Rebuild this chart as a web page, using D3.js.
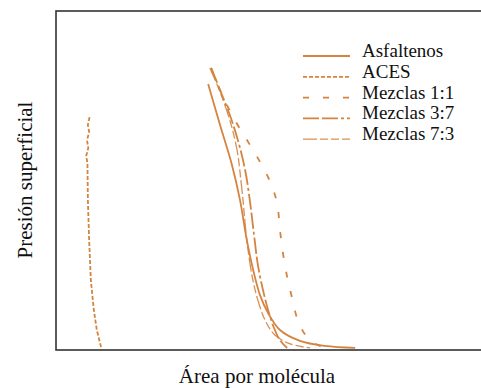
<!DOCTYPE html>
<html>
<head>
<meta charset="utf-8">
<script src="https://cdn.jsdelivr.net/npm/d3@7"></script>
<style>
  body { margin: 0; background: #fff; }
  text { font-family: "Liberation Serif", "DejaVu Serif", serif; fill: #111; }
</style>
</head>
<body>
<div id="main_graphs"></div>
<script>
// isotherm data (area per molecule vs surface pressure, arbitrary units)
var seriesNames = ["Asfaltenos", "ACES", "Mezclas 1:1", "Mezclas 3:7", "Mezclas 7:3"]

var asfaltenosX = [35.8, 38.6, 41.4, 43.3, 44.9, 46.4, 48.0, 49.9, 52.7, 57.4, 63.3, 70.4]
var asfaltenosY = [78.5, 66.4, 54.6, 44.2, 32.4, 23.6, 16.2, 10.9, 5.9, 2.7, 1.2, 0.6]

var acesX = [7.9, 7.5, 7.8, 7.3, 7.6, 7.1, 7.4, 7.5, 7.8, 8.2, 8.9, 9.6, 10.6]
var acesY = [68.7, 66.4, 64.3, 61.9, 59.6, 57.2, 55.2, 44.2, 32.4, 20.6, 11.8, 5.9, 0.9]

var mez11X = [36.5, 39.1, 42.1, 45.2, 48.0, 50.4, 52.0, 52.7, 53.4, 54.4, 55.5, 56.9, 59.1, 62.1, 64.5]
var mez11Y = [83.2, 75.2, 67.8, 61.4, 55.5, 49.6, 43.4, 35.4, 28.6, 21.5, 15.6, 8.8, 3.8, 1.2, 0.6]

var mez37X = [36.5, 38.6, 40.9, 42.8, 44.5, 45.6, 46.6, 47.5, 48.7, 49.9, 51.3, 52.7, 54.4]
var mez37Y = [83.2, 76.7, 69.3, 61.9, 53.1, 44.2, 33.9, 25.1, 17.7, 11.8, 6.5, 2.9, 0.6]

var mez73X = [36.2, 38.6, 40.9, 42.6, 43.5, 44.0, 44.9, 46.1, 47.5, 49.2, 51.5, 55.1, 59.8]
var mez73Y = [83.2, 76.1, 67.8, 59.0, 50.1, 44.2, 32.4, 22.1, 14.7, 8.8, 4.4, 1.8, 0.6]

var width = 481
var height = 388
var margin = {top: 11, right: 0, bottom: 38, left: 56}
var orange = "#d4843f"

var svg = d3.select("#main_graphs")
  .append("svg")
  .attr("width", width)
  .attr("height", height)

var x = d3.scaleLinear()
  .domain([0, 100])
  .range([margin.left, width - margin.right])

var y = d3.scaleLinear()
  .domain([0, 100])
  .range([height - margin.bottom, margin.top])

// frame (right side runs off the picture)
svg.append("rect")
  .attr("x", x(0))
  .attr("y", y(100))
  .attr("width", x(100) - x(0) + 10)
  .attr("height", y(0) - y(100))
  .attr("fill", "none")
  .attr("stroke", "#333")
  .attr("stroke-width", 1.6)

var series = [
  {name: seriesNames[0], xs: asfaltenosX, ys: asfaltenosY, dash: null, w: 1.8, op: 1, curve: d3.curveCatmullRom},
  {name: seriesNames[1], xs: acesX, ys: acesY, dash: "4,2", w: 1.8, op: 1, curve: d3.curveLinear},
  {name: seriesNames[2], xs: mez11X, ys: mez11Y, dash: "6,14", w: 1.8, op: 1, curve: d3.curveCatmullRom},
  {name: seriesNames[3], xs: mez37X, ys: mez37Y, dash: "16,3,16,3,3,3", w: 1.8, op: 1, curve: d3.curveCatmullRom},
  {name: seriesNames[4], xs: mez73X, ys: mez73Y, dash: "14,3,8,3,8,3", w: 1.3, op: 0.9, curve: d3.curveCatmullRom}
]

var plot = svg.append("g")

series.forEach(function(s){
  var line = d3.line()
    .x(function(d){ return x(d[0]) })
    .y(function(d){ return y(d[1]) })
    .curve(s.curve)

  plot.append("path")
    .datum(d3.zip(s.xs, s.ys))
    .attr("d", line)
    .attr("fill", "none")
    .attr("stroke", orange)
    .attr("stroke-width", s.w)
    .attr("stroke-opacity", s.op)
    .attr("stroke-dasharray", s.dash)
})

// legend
var legend = svg.append("g")
  .attr("transform", "translate(303,56)")

series.forEach(function(s, i){
  var row = legend.append("g")
    .attr("transform", "translate(0," + (i * 20.8) + ")")
  row.append("line")
    .attr("x1", 0)
    .attr("x2", 47)
    .attr("y1", 0)
    .attr("y2", 0)
    .attr("stroke", orange)
    .attr("stroke-width", s.w)
    .attr("stroke-opacity", s.op)
    .attr("stroke-dasharray", s.dash)
  row.append("text")
    .attr("x", 59)
    .attr("y", 1)
    .style("font-size", "19px")
    .text(s.name)
})

// axis titles
svg.append("text")
  .attr("x", 257)
  .attr("y", 383)
  .style("text-anchor", "middle")
  .style("font-size", "21px")
  .text("Área por molécula")

svg.append("text")
  .attr("transform", "translate(32,180) rotate(-90)")
  .style("text-anchor", "middle")
  .style("font-size", "21px")
  .text("Presión superficial")
</script>
</body>
</html>
